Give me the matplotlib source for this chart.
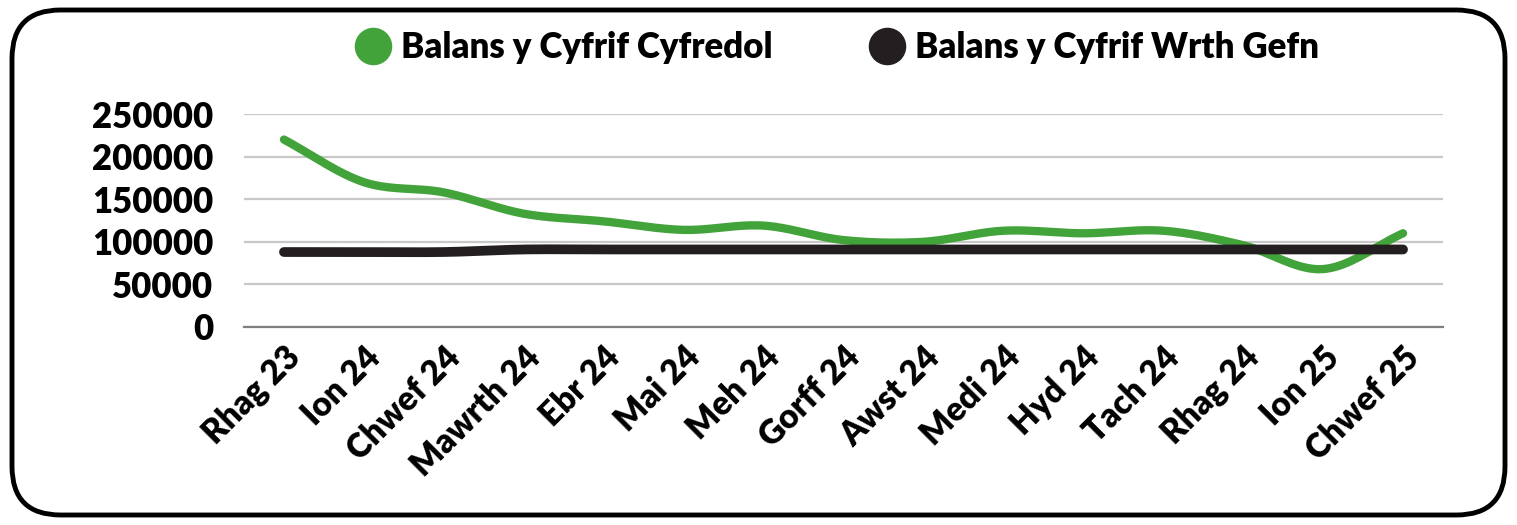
import numpy as np
import matplotlib.pyplot as plt
from matplotlib.patches import FancyBboxPatch
from matplotlib.lines import Line2D

plt.rcParams['font.family'] = ['Lato', 'DejaVu Sans']
plt.rcParams['font.weight'] = 'heavy'

months = ['Rhag 23', 'Ion 24', 'Chwef 24', 'Mawrth 24', 'Ebr 24', 'Mai 24', 'Meh 24',
          'Gorff 24', 'Awst 24', 'Medi 24', 'Hyd 24', 'Tach 24', 'Rhag 24', 'Ion 25', 'Chwef 25']
current_balance = [220000, 170000, 158000, 133000, 124000, 114000, 119000,
                   102000, 100000, 113000, 110000, 113000, 96000, 68000, 110000]
reserve_balance = [88000, 88000, 88000, 91000, 91000, 91000, 91000,
                   91000, 91000, 91000, 91000, 91000, 91000, 91000, 91000]
y_ticks = [0, 50000, 100000, 150000, 200000, 250000]

GREEN = '#43a33b'
DARK = '#231f20'


def smooth(x, y, n=20):
    # catmull-rom curve through the points, like a spreadsheet "smoothed line"
    x = np.asarray(x, float)
    y = np.asarray(y, float)
    px = np.concatenate([[2 * x[0] - x[1]], x, [2 * x[-1] - x[-2]]])
    py = np.concatenate([[2 * y[0] - y[1]], y, [2 * y[-1] - y[-2]]])
    xs, ys = [], []
    t = np.linspace(0, 1, n, endpoint=False)
    for i in range(1, len(px) - 2):
        for p, out in ((px, xs), (py, ys)):
            p0, p1, p2, p3 = p[i - 1], p[i], p[i + 1], p[i + 2]
            out.extend(0.5 * ((2 * p1) + (-p0 + p2) * t
                              + (2 * p0 - 5 * p1 + 4 * p2 - p3) * t ** 2
                              + (-p0 + 3 * p1 - 3 * p2 + p3) * t ** 3))
    xs.append(x[-1])
    ys.append(y[-1])
    return np.array(xs), np.array(ys)


fig = plt.figure(figsize=(15.17, 5.25), dpi=100)
ax = fig.add_axes([244 / 1517, 1 - 327 / 525, (1443 - 244) / 1517, (327 - 114) / 525])

x = np.arange(len(months))
sx, sy = smooth(x, current_balance)
ax.plot(sx, sy, color=GREEN, linewidth=6, solid_capstyle='round', zorder=3)
sx, sy = smooth(x, reserve_balance)
ax.plot(sx, sy, color=DARK, linewidth=7, solid_capstyle='round', zorder=4)

ax.set_xlim(-0.5, len(months) - 0.5)
ax.set_ylim(0, 250000)
ax.set_yticks(y_ticks)
ax.set_yticklabels([str(v) for v in y_ticks], fontsize=25, fontweight='heavy')
ax.set_xticks(x)
ax.set_xticklabels(months, rotation=45, ha='right', rotation_mode='anchor',
                   fontsize=24, fontweight='heavy')
ax.tick_params(axis='y', length=0, pad=22)
ax.tick_params(axis='x', length=0, pad=10)
ax.grid(axis='y', color='#c8c8c8', linewidth=1.6)
ax.set_axisbelow(True)
for s in ['top', 'right', 'left']:
    ax.spines[s].set_visible(False)
ax.spines['bottom'].set_color('#808080')
ax.spines['bottom'].set_linewidth(1.6)

handles = [Line2D([], [], marker='o', linestyle='', markersize=26, color=GREEN),
           Line2D([], [], marker='o', linestyle='', markersize=26, color=DARK)]
fig.legend(handles, ['Balans y Cyfrif Cyfredol', 'Balans y Cyfrif Wrth Gefn'],
           loc='center', bbox_to_anchor=(0.552, 0.91), ncol=2, frameon=False,
           prop={'size': 25, 'weight': 'heavy'}, handletextpad=0.3, columnspacing=2.8,
           handlelength=1.0)

border = FancyBboxPatch((12 / 1517, 10 / 525), 1493 / 1517, 505 / 525,
                        boxstyle='round,pad=0,rounding_size=0.032',
                        transform=fig.transFigure, facecolor='none',
                        edgecolor='black', linewidth=3.5, mutation_aspect=1517 / 525)
fig.patches.append(border)

fig.savefig('out.png', dpi=100)
